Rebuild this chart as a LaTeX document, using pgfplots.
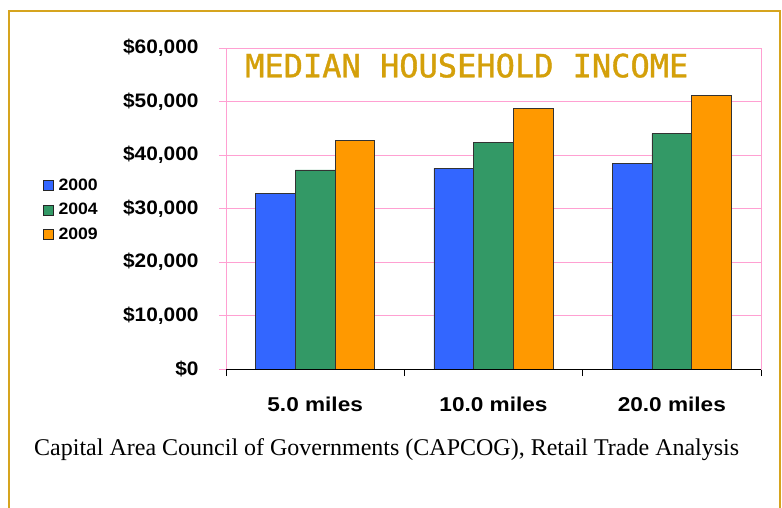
\documentclass[border=0pt]{standalone}
\usepackage{fontspec}
\setmainfont{Liberation Serif}
\newfontfamily\ylabfont[FakeStretch=1.07]{Liberation Sans}
\newfontfamily\xlabfont[FakeStretch=1.13]{Liberation Sans}
\newfontfamily\legfont[FakeStretch=1.07]{Liberation Sans}
\newfontfamily\titlefont[FakeBold=1.2]{DejaVu Sans Mono}
\usepackage{pgfplots}
\pgfplotsset{compat=1.18}
\definecolor{pinkgrid}{RGB}{255,160,210}
\definecolor{gold}{RGB}{212,160,10}
\definecolor{framegold}{RGB}{214,164,30}
\definecolor{cblue}{RGB}{51,102,255}
\definecolor{cgreen}{RGB}{51,153,102}
\definecolor{corange}{RGB}{255,153,0}
\begin{document}
\begin{tikzpicture}[x=1bp,y=1bp]
\useasboundingbox (0,0) rectangle (782,-508);
\fill[white] (0,0) rectangle (782,-508);
\draw[framegold, line width=2bp] (9,-510) -- (9,-11) -- (780,-11) -- (780,-510);
\begin{axis}[
  at={(226bp,-369bp)}, anchor=south west,
  scale only axis, width=535bp, height=321bp,
  xmin=-0.5, xmax=2.5, ymin=0, ymax=60000,
  scaled y ticks=false,
  ybar=0pt, bar width=39.7bp,
  xtick={0,1,2}, xticklabels={5.0 miles,10.0 miles,20.0 miles},
  minor xtick={-0.5,0.5,1.5,2.5},
  xtick pos=bottom, ytick pos=left,
  tick align=outside,
  major tick length=7bp, minor tick length=7bp,
  major x tick style={draw=none},
  minor x tick style={black, line width=0.8bp},
  y tick style={pinkgrid, line width=1bp},
  ytick={0,10000,20000,30000,40000,50000,60000},
  yticklabels={{\$0},{\$10,000},{\$20,000},{\$30,000},{\$40,000},{\$50,000},{\$60,000}},
  ymajorgrids, major grid style={pinkgrid, line width=1bp},
  axis line style={pinkgrid, line width=1bp},
  yticklabel style={font=\ylabfont\bfseries\fontsize{19.5bp}{21bp}\selectfont, anchor=east, xshift=-17bp},
  xticklabel style={font=\xlabfont\bfseries\fontsize{20bp}{22bp}\selectfont, anchor=base, yshift=-35bp},
  legend style={draw=none, fill=none, at={(-0.3426,0.599)}, anchor=north west,
    font=\legfont\bfseries\fontsize{16.5bp}{18bp}\selectfont, inner sep=0pt, row sep=7.5bp,
    nodes={inner xsep=5bp, inner ysep=2bp}},
  legend cell align=left,
  legend image code/.code={\draw[#1, draw=black!85, line width=0.6bp] (0bp,-5bp) rectangle (10bp,5bp);},
  after end axis/.code={\draw[black, line width=1bp] (rel axis cs:0,0) -- (rel axis cs:1,0);},
]
\addplot[fill=cblue, draw=black!80, line width=0.6bp] coordinates {(0,32850) (1,37500) (2,38500)};
\addplot[fill=cgreen, draw=black!80, line width=0.6bp] coordinates {(0,37200) (1,42300) (2,44000)};
\addplot[fill=corange, draw=black!80, line width=0.6bp] coordinates {(0,42750) (1,48650) (2,51200)};
\legend{2000,2004,2009}
\end{axis}
\node[anchor=base west, inner sep=0pt, text=gold, font=\titlefont\fontsize{32bp}{34bp}\selectfont] at (245,-77.3) {MEDIAN HOUSEHOLD INCOME};
\node[anchor=base west, inner sep=0pt, font=\fontsize{24bp}{26bp}\selectfont] at (34,-455) {Capital Area Council of Governments (CAPCOG), Retail Trade Analysis};
\end{tikzpicture}
\end{document}
